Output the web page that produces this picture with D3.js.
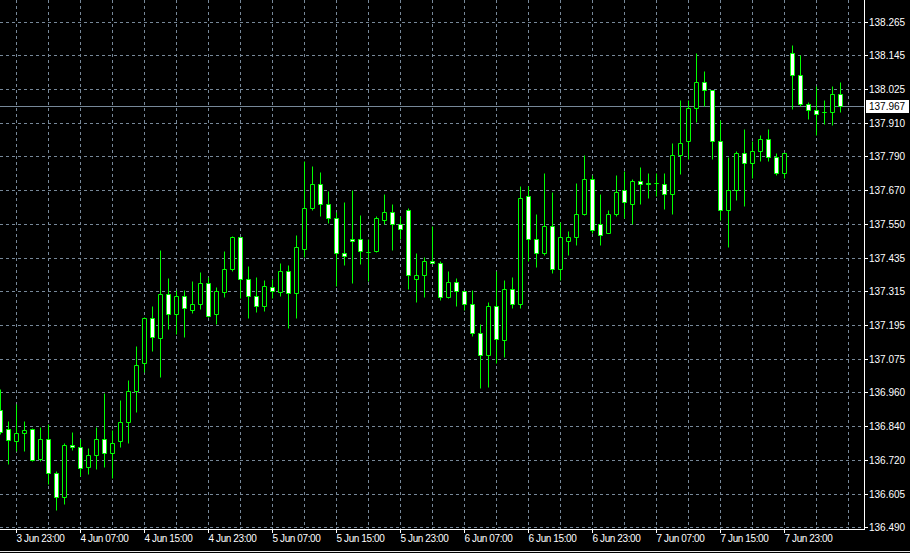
<!DOCTYPE html>
<html><head><meta charset="utf-8">
<script src="https://cdn.jsdelivr.net/npm/d3@7"></script>
<style>
html,body{margin:0;padding:0;background:#000;overflow:hidden;}
svg{display:block;}
text{font-family:"Liberation Sans", Arial, sans-serif;}
</style></head><body>
<svg id="c" width="910" height="553"></svg>
<script>
// ---- data (hourly candles, first candle 3 Jun 21:00) ----
const year = "2023";
const startTime = "3 Jun 21:00";
const open = [136.903,136.836,136.794,136.822,136.836,136.730,136.801,136.681,136.596,136.780,
136.773,136.702,136.745,136.801,136.752,136.794,136.858,136.970,137.065,137.226,
137.155,137.307,137.237,137.303,137.254,137.275,137.349,137.240,137.314,137.395,
137.507,137.363,137.303,137.265,137.335,137.317,137.391,137.313,137.467,137.612,
137.696,137.626,137.574,137.454,137.500,137.500,137.456,137.458,137.570,137.595,
137.553,137.602,137.363,137.377,137.426,137.416,137.298,137.352,137.321,137.275,
137.173,137.093,137.268,137.149,137.328,137.272,137.654,137.500,137.451,137.546,
137.395,137.496,137.507,137.591,137.714,137.556,137.524,137.591,137.672,137.626,
137.707,137.700,137.697,137.696,137.661,137.795,137.844,137.960,138.051,138.023,
137.844,137.602,137.672,137.802,137.770,137.812,137.851,137.788,137.732,138.153,
138.079,137.977,137.956,137.946,137.946,138.012];
const high = [136.977,136.862,136.921,136.862,136.838,136.843,136.854,136.687,136.785,136.826,
136.801,136.770,136.843,136.963,136.833,136.936,137.008,137.125,137.228,137.266,
137.462,137.364,137.324,137.324,137.354,137.385,137.370,137.335,137.458,137.511,
137.509,137.406,137.370,137.359,137.363,137.419,137.409,137.517,137.775,137.757,
137.736,137.669,137.597,137.631,137.672,137.585,137.500,137.582,137.659,137.624,
137.581,137.612,137.451,137.437,137.549,137.426,137.389,137.366,137.321,137.322,
137.205,137.282,137.389,137.359,137.370,137.687,137.687,137.591,137.735,137.665,
137.563,137.531,137.700,137.796,137.728,137.661,137.605,137.725,137.739,137.714,
137.753,137.735,137.732,137.735,137.837,137.991,137.991,138.153,138.093,138.023,
137.921,137.791,137.812,137.886,137.847,137.865,137.886,137.805,137.805,138.184,
138.146,137.984,138.040,137.991,138.040,138.051];
const low = [136.819,136.712,136.759,136.759,136.723,136.723,136.643,136.551,136.572,136.760,
136.669,136.677,136.695,136.702,136.663,136.772,136.786,136.895,137.035,137.109,
137.018,137.186,137.170,137.158,137.242,137.256,137.228,137.204,137.298,137.388,
137.296,137.225,137.246,137.249,137.296,137.303,137.191,137.223,137.439,137.603,
137.583,137.558,137.338,137.410,137.348,137.414,137.355,137.456,137.556,137.462,
137.503,137.326,137.281,137.298,137.417,137.289,137.295,137.268,137.254,137.163,
136.980,136.983,137.068,137.086,137.261,137.261,137.423,137.404,137.447,137.384,
137.359,137.444,137.482,137.585,137.523,137.481,137.524,137.584,137.574,137.553,
137.623,137.647,137.654,137.608,137.588,137.730,137.781,137.911,137.967,137.781,
137.570,137.472,137.640,137.616,137.717,137.776,137.774,137.725,137.717,137.959,
137.967,137.923,137.868,137.906,137.903,137.949];
const close = [136.825,136.798,136.822,136.833,136.726,136.801,136.681,136.596,136.780,136.772,
136.698,136.745,136.801,136.752,136.787,136.858,136.970,137.058,137.226,137.158,
137.307,137.237,137.300,137.258,137.272,137.349,137.230,137.321,137.395,137.510,
137.363,137.303,137.265,137.338,137.321,137.391,137.313,137.472,137.612,137.696,
137.626,137.574,137.453,137.442,137.493,137.458,137.456,137.577,137.595,137.553,
137.538,137.377,137.377,137.423,137.419,137.298,137.352,137.320,137.275,137.173,
137.093,137.268,137.152,137.328,137.272,137.647,137.500,137.451,137.546,137.395,
137.507,137.507,137.591,137.714,137.535,137.517,137.591,137.668,137.630,137.707,
137.693,137.693,137.697,137.661,137.798,137.840,137.963,138.054,138.026,137.844,
137.605,137.672,137.802,137.770,137.809,137.851,137.788,137.735,137.805,138.076,
137.977,137.956,137.939,137.946,138.012,137.967];
const priceTickLabels = ["136.490","136.605","136.720","136.840","136.960","137.075","137.195","137.315",
"137.435","137.550","137.670","137.790","137.910","138.025","138.145","138.265"];
const timeTickLabels = ["3 Jun 23:00","4 Jun 07:00","4 Jun 15:00","4 Jun 23:00","5 Jun 07:00","5 Jun 15:00",
"5 Jun 23:00","6 Jun 07:00","6 Jun 15:00","6 Jun 23:00","7 Jun 07:00","7 Jun 15:00","7 Jun 23:00"];
const lastPrice = 137.967;
const lastPriceLabel = "137.967";

// ---- layout ----
const W = 910, H = 553, plotR = 864, plotB = 529;
const gridColor = "#778899", candleColor = "#00ff00";

const parse = d3.timeParse("%Y %d %b %H:%M");
const t0 = parse(year + " " + startTime);
const times = open.map((d, i) => d3.timeHour.offset(t0, i));
const candles = open.map((o, i) => ({t: times[i], o, h: high[i], l: low[i], c: close[i]}));

const x = d3.scaleTime().domain([times[0], times[times.length - 1]]).rangeRound([0, 840]);
const pMin = +priceTickLabels[0], pMax = +priceTickLabels[priceTickLabels.length - 1];
const y = d3.scaleLinear().domain([pMin, pMax]).rangeRound([527.3, 21.5]);
const pStep = (pMax - pMin) / (priceTickLabels.length - 1);
const priceTicks = priceTickLabels.map((d, k) => pMin + k * pStep);
const timeTicks = timeTickLabels.map(s => parse(year + " " + s));

const svg = d3.select("#c");
svg.append("rect").attr("width", W).attr("height", H).attr("fill", "#000");

// grid
const gGrid = svg.append("g").attr("stroke", gridColor).attr("stroke-dasharray", "3,3").attr("stroke-width", 1);
const gridTimes = d3.timeHour.range(timeTicks[0], d3.timeHour.offset(t0, 108), 4);
gGrid.selectAll("line.v").data(gridTimes).join("line")
  .attr("x1", d => x(d) + 0.5).attr("x2", d => x(d) + 0.5)
  .attr("y1", 0).attr("y2", plotB);
gGrid.selectAll("line.h").data(priceTicks).join("line")
  .attr("x1", 0).attr("x2", plotR)
  .attr("y1", d => y(d) + 0.5).attr("y2", d => y(d) + 0.5);

// current price line
svg.append("line").attr("x1", 0).attr("x2", plotR)
  .attr("y1", y(lastPrice) + 0.5).attr("y2", y(lastPrice) + 0.5)
  .attr("stroke", gridColor).attr("stroke-width", 1);

// candles
const gC = svg.append("g");
const cg = gC.selectAll("g").data(candles).join("g");
cg.append("line")
  .attr("x1", d => x(d.t) + 0.5).attr("x2", d => x(d.t) + 0.5)
  .attr("y1", d => y(d.h) + 0.5).attr("y2", d => y(d.l) + 0.5)
  .attr("stroke", candleColor).attr("stroke-width", 1);
cg.append("path")
  .attr("d", d => {
    const cx = x(d.t), top = y(Math.max(d.o, d.c)) + 0.5, bot = y(Math.min(d.o, d.c)) + 0.5;
    const x0 = cx - 1.5, x1 = cx + 2.5;
    return `M${x0},${top}H${x1}V${bot}H${x0}Z`;
  })
  .attr("fill", d => d.c < d.o ? "#ffffff" : "#000000")
  .attr("stroke", candleColor).attr("stroke-width", 1);

// borders
svg.append("line").attr("x1", plotR + 0.5).attr("x2", plotR + 0.5).attr("y1", 0).attr("y2", plotB + 1)
  .attr("stroke", "#fff");
svg.append("line").attr("x1", 0).attr("x2", plotR + 1).attr("y1", plotB + 0.5).attr("y2", plotB + 0.5)
  .attr("stroke", "#fff");
svg.append("line").attr("x1", 0).attr("x2", W).attr("y1", 551.5).attr("y2", 551.5)
  .attr("stroke", "#e8e8e8");

// y axis
const yAxis = svg.append("g").attr("transform", `translate(${plotR},0)`)
  .call(d3.axisRight(y).tickValues(priceTicks).tickFormat((d, i) => priceTickLabels[i])
    .tickSize(4).tickSizeOuter(0).tickPadding(1));
yAxis.select(".domain").remove();
yAxis.selectAll("line").attr("stroke", "#fff");
yAxis.selectAll("text").attr("fill", "#fff").attr("font-size", "10px")
  .attr("font-family", "'Liberation Sans', Arial, sans-serif");

// x axis
const xAxis = svg.append("g").attr("transform", `translate(0,${plotB})`)
  .call(d3.axisBottom(x).tickValues(timeTicks).tickFormat((d, i) => timeTickLabels[i])
    .tickSize(4).tickSizeOuter(0));
xAxis.select(".domain").remove();
xAxis.selectAll("line").attr("stroke", "#fff");
xAxis.selectAll("text").attr("fill", "#fff").attr("font-size", "10px")
  .attr("font-family", "'Liberation Sans', Arial, sans-serif")
  .attr("text-anchor", "start").attr("x", 0).attr("y", 13).attr("dy", 0)
  .attr("letter-spacing", "-0.4px");

// last price label
const ly = y(lastPrice);
svg.append("rect").attr("x", plotR + 2).attr("y", ly - 6).attr("width", 43).attr("height", 13).attr("fill", "#fff");
svg.append("text").attr("x", plotR + 5).attr("y", ly + 0.5).attr("dy", "0.32em")
  .attr("fill", "#000").attr("font-size", "10px").text(lastPriceLabel);
</script>
</body></html>
